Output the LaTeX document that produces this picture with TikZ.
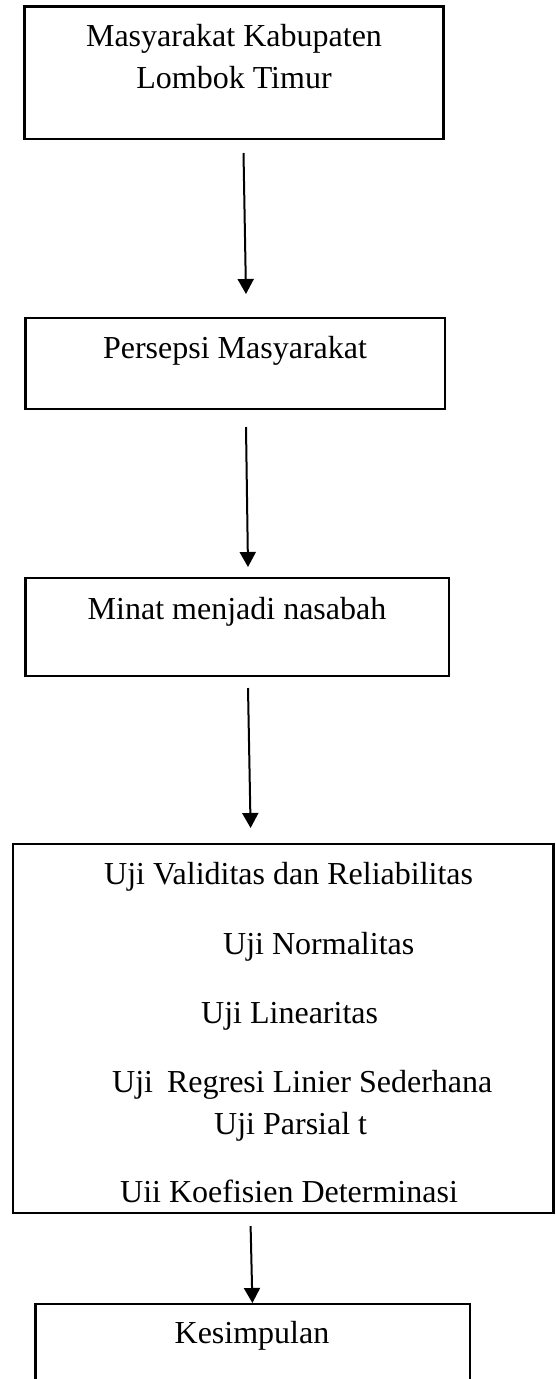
\documentclass[tikz,border=0pt]{standalone}
\usepackage{fontspec}
\setmainfont{Liberation Serif}
\usetikzlibrary{arrows.meta}
\begin{document}
\begin{tikzpicture}[x=1pt,y=-1pt,
  box/.style={draw=black, line width=2.2pt, inner sep=0pt, rectangle},
  lbl/.style={inner sep=0pt, font=\fontsize{32}{38}\selectfont, anchor=base},
  lblw/.style={inner sep=0pt, font=\fontsize{32}{38}\selectfont, anchor=base west},
  arr/.style={line width=2pt, -{Triangle[width=16pt,length=15pt]}}]
\useasboundingbox (0,0) rectangle (555,1379);
\clip (0,0) rectangle (555,1379);
\fill[white] (0,0) rectangle (555,1379);
% boxes
\node[box, minimum width=419pt, minimum height=132.5pt] (b1) at (234,72.75) {};
\node[box, minimum width=419.5pt, minimum height=91pt] (b2) at (235.25,363.5) {};
\node[box, minimum width=423.5pt, minimum height=98pt] (b3) at (237.25,627) {};
\node[box, minimum width=540.8pt, minimum height=369pt] (b4) at (283.1,1028.5) {};
\node[box, minimum width=434.6pt, minimum height=116pt] (b5) at (252.7,1362) {};
% texts
\node[lbl] (t1a) at (234,46) {Masyarakat Kabupaten};
\node[lbl] (t1b) at (234,88) {Lombok Timur};
\node[lbl] (t2) at (235,358) {Persepsi Masyarakat};
\node[lbl] (t3) at (237,619) {Minat menjadi nasabah};
\node[lblw] (t4a) at (104,884) {Uji Validitas dan Reliabilitas};
\node[lblw] (t4b) at (223,954) {Uji Normalitas};
\node[lblw] (t4c) at (201,1023) {Uji Linearitas};
\node[lblw] (t4d) at (112,1092) {Uji\hspace{6pt} Regresi Linier Sederhana};
\node[lblw] (t4e) at (214,1134) {Uji Parsial t};
\node[lblw] (t4f) at (120,1202) {Uii Koefisien Determinasi};
\node[lbl] (t5) at (252,1343) {Kesimpulan};
% arrows
\coordinate (a1s) at (243.5,153);
\coordinate (a1e) at (246,294);
\coordinate (a2s) at (246,427);
\coordinate (a2e) at (248,567);
\coordinate (a3s) at (248,688);
\coordinate (a3e) at (250.6,828);
\coordinate (a4s) at (250.6,1226);
\coordinate (a4e) at (252.4,1303);
\draw[arr] (a1s) -- (a1e);
\draw[arr] (a2s) -- (a2e);
\draw[arr] (a3s) -- (a3e);
\draw[arr] (a4s) -- (a4e);
\end{tikzpicture}
\end{document}
